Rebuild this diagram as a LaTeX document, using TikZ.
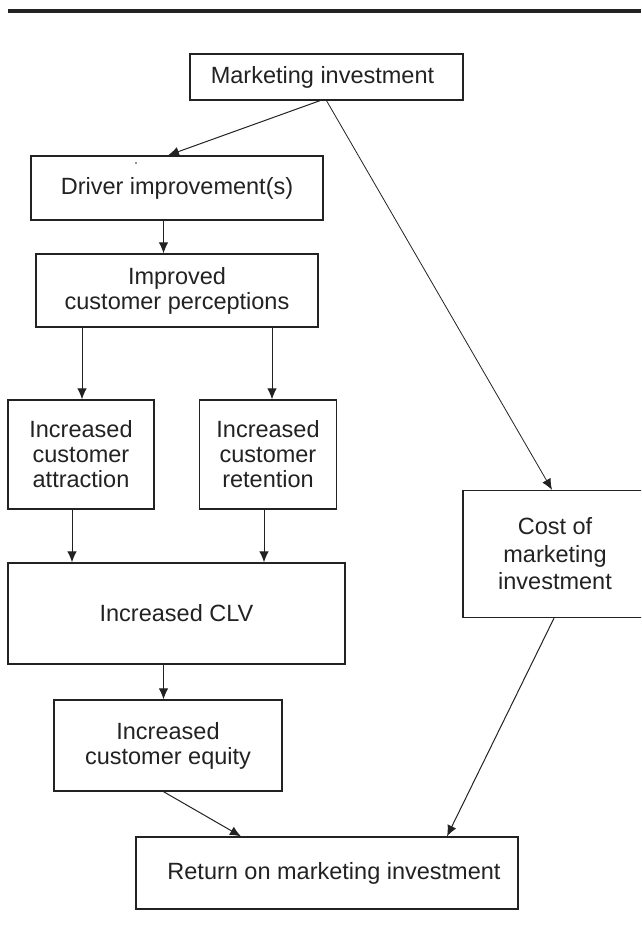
\documentclass[tikz,border=0pt]{standalone}
\usepackage{fontspec}
\setmainfont{Liberation Sans}
\usetikzlibrary{arrows.meta}
\definecolor{ink}{HTML}{222222}
\begin{document}
\begin{tikzpicture}[x=1pt,y=-1pt,
  box/.style={draw=ink, text=ink, line width=1.3pt, inner sep=0pt, align=center, font=\fontsize{23.5}{25}\selectfont},
  arr/.style={draw=ink, line width=1pt, -{Latex[length=11pt,width=9.5pt]}}]
\useasboundingbox (0,0) rectangle (641,947);
\clip (0,0) rectangle (641,947);
\draw[ink, line width=3.2pt] (8,11) -- (641,11);
% nodes
\node[box, minimum width=273pt, minimum height=46pt] (mi) at (326.5,77) {Marketing investment\hspace*{8pt}};
\node[box, minimum width=292pt, minimum height=64pt] (drv) at (177,188) {Driver improvement(s)};
\node[box, minimum width=282pt, minimum height=73pt] (perc) at (177,290.5) {Improved\\customer perceptions};
\node[box, minimum width=146pt, minimum height=109pt] (attr) at (81,454.5) {Increased\\customer\\attraction};
\node[box, minimum width=136.5pt, minimum height=109pt] (ret) at (268,454.5) {Increased\\customer\\retention};
\node[box, minimum width=337pt, minimum height=101pt] (clv) at (176.5,613.5) {Increased CLV};
\node[box, minimum width=228pt, minimum height=91pt] (eq) at (168,745.5) {Increased\\customer equity};
\node[box, minimum width=184pt, minimum height=127pt, font=\fontsize{23.5}{27.5}\selectfont] (cost) at (555,554) {Cost of\\marketing\\investment};
\node[box, minimum width=382pt, minimum height=72pt] (roi) at (327,873) {\hspace*{14pt}Return on marketing investment};
% stray mark
\fill[ink] (136,163) circle (0.9pt);
% connectors
\draw[arr] ([xshift=-6.5pt]mi.south) -- ([xshift=-9pt]drv.north);
\draw[arr, line width=0.8pt] (mi.south) -- ([xshift=-3pt]cost.north);
\draw[arr] ([xshift=-13.5pt]drv.south) -- ([xshift=-13.5pt]perc.north);
\draw[arr] ([xshift=-95pt]perc.south) coordinate (p1) -- (p1 |- attr.north);
\draw[arr] ([xshift=95pt]perc.south) coordinate (p2) -- (p2 |- ret.north);
\draw[arr] ([xshift=-9pt]attr.south) coordinate (a1) -- (a1 |- clv.north);
\draw[arr] ([xshift=-4pt]ret.south) coordinate (r1) -- (r1 |- clv.north);
\draw[arr] ([xshift=-13pt]clv.south) -- ([xshift=-4.5pt]eq.north);
\draw[arr] ([xshift=-4.5pt]eq.south) -- ([xshift=-86pt]roi.north);
\draw[arr] ([xshift=-1pt]cost.south) -- ([xshift=120pt]roi.north);
\end{tikzpicture}
\end{document}
